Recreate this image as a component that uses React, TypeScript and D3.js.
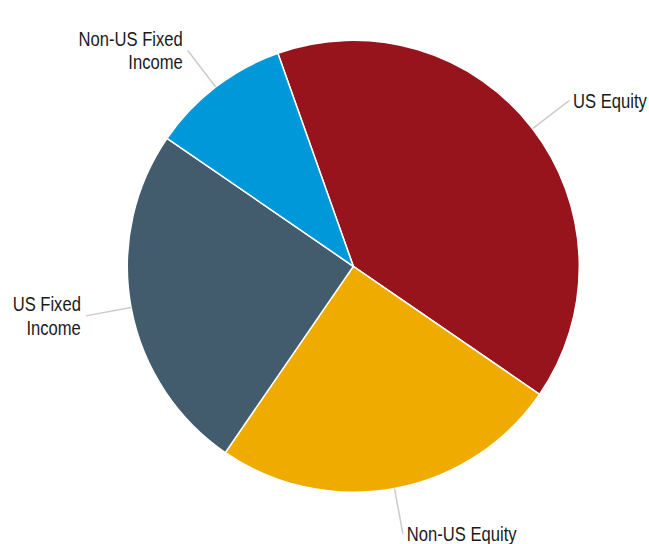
import React from "react";
import * as d3 from "d3";

const categories = ["US Equity", "Non-US Equity", "US Fixed Income", "Non-US Fixed Income"];
const labelLines = [["US Equity"], ["Non-US Equity"], ["US Fixed", "Income"], ["Non-US Fixed", "Income"]];
const values = [40, 25, 25, 10];
const colors = ["#97141d", "#f0ab00", "#425c6e", "#0098d9"];

const W = 649;
const H = 544;
const cx = 353.3;
const cy = 266.3;
const R = 226;
const startDeg = -19.5;

export default function App() {
  const data = categories.map((c, i) => ({ name: c, value: values[i], lines: labelLines[i], color: colors[i] }));
  const pie = d3
    .pie<any>()
    .value((d) => d.value)
    .sort(null)
    .startAngle((startDeg * Math.PI) / 180)
    .endAngle((startDeg * Math.PI) / 180 + 2 * Math.PI);
  const arcs = pie(data);
  const arc = d3.arc<any>().innerRadius(0).outerRadius(R);
  const fontSize = 20;
  const lineH = 23.5;
  const narrow = 0.83;

  return (
    <div style={{ position: "fixed", left: 0, top: 0 }}>
      <svg width={W} height={H} style={{ display: "block", background: "#fff" }}>
        <g transform={`translate(${cx},${cy})`}>
          {arcs.map((a, i) => (
            <path key={i} d={arc(a) as string} fill={a.data.color} stroke="#fff" strokeWidth={1.5} strokeLinejoin="round" />
          ))}
          {arcs.map((a, i) => {
            const mid = (a.startAngle + a.endAngle) / 2;
            const sx = Math.sin(mid) * R;
            const sy = -Math.cos(mid) * R;
            const r2 = R + 46;
            const ex = Math.sin(mid) * r2;
            const ey = -Math.cos(mid) * r2;
            const right = ex > 0;
            const tx = right ? ex + 4 : ex - 5;
            const n = a.data.lines.length;
            const base0 = ey + 7 - ((n - 1) * lineH) / 2;
            return (
              <g key={"l" + i}>
                <line x1={sx} y1={sy} x2={ex} y2={ey} stroke="#cccccc" strokeWidth={1.5} />
                <g transform={`translate(${tx},0) scale(${narrow},1)`}>
                  <text
                    textAnchor={right ? "start" : "end"}
                    fontFamily="'Liberation Sans Narrow', 'Arial Narrow', 'Liberation Sans', Arial, sans-serif"
                    fontSize={fontSize}
                    fill="#1a1a1a"
                  >
                    {a.data.lines.map((ln: string, j: number) => (
                      <tspan key={j} x={0} y={base0 + j * lineH}>
                        {ln}
                      </tspan>
                    ))}
                  </text>
                </g>
              </g>
            );
          })}
        </g>
      </svg>
    </div>
  );
}
